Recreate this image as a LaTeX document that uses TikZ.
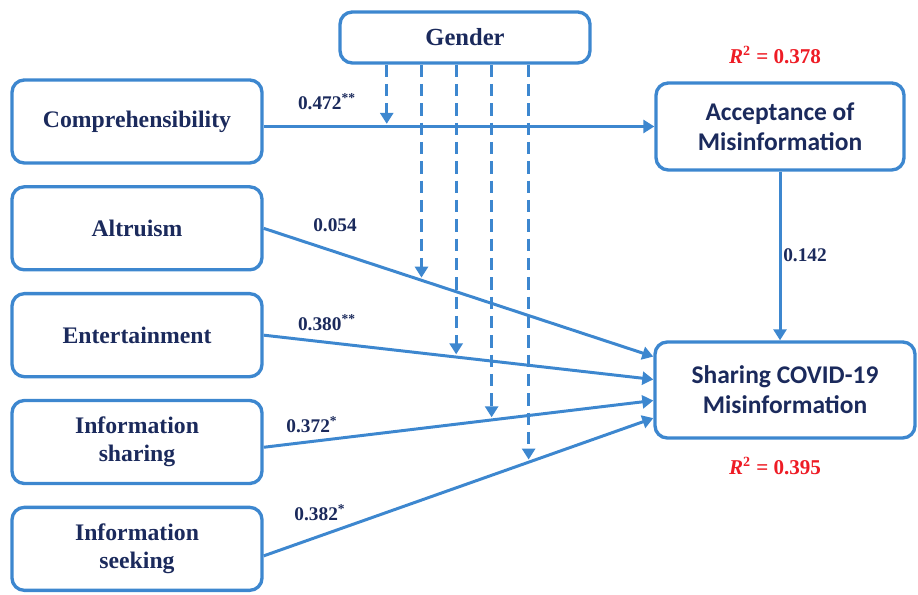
\documentclass[tikz,border=0pt]{standalone}
\usepackage{fontspec}
\setmainfont{Liberation Serif}
\newfontfamily\calibfont{Carlito}
\usetikzlibrary{arrows.meta,positioning}
\definecolor{boxblue}{HTML}{3D87CF}
\definecolor{inkblue}{HTML}{1B2A5C}
\definecolor{rsqred}{HTML}{EE1C25}

\begin{document}
\begin{tikzpicture}[node distance=0.41cm,
  factor/.style={draw=boxblue, line width=1.9pt, rounded corners=7pt, minimum width=5cm, minimum height=1.66cm, align=center, text=inkblue, font=\fontsize{13.5}{16}\selectfont\bfseries},
  outcome/.style={factor, font=\calibfont\fontsize{14.5}{17}\selectfont\bfseries},
  effect/.style={draw=boxblue, line width=1.7pt, -{Triangle[length=2.2mm,width=2.6mm]}},
  moder/.style={effect, dash pattern=on 7pt off 4pt, shorten >=1.5pt},
  coef/.style={text=inkblue, font=\fontsize{11}{13}\selectfont\bfseries},
  rsq/.style={text=rsqred, font=\fontsize{12}{14}\selectfont\bfseries}]
\useasboundingbox (0,0) rectangle (18.36,11.9);

% predictors
\node (comp) [factor] at (2.74,9.47) {Comprehensibility};
\node (altr) [factor, below=of comp] {Altruism};
\node (ent) [factor, below=of altr] {Entertainment};
\node (ish) [factor, below=of ent] {Information\\sharing};
\node (isk) [factor, below=of ish] {Information\\seeking};

% moderator and outcomes
\node (gen) [factor, minimum height=1.02cm, font=\fontsize{14}{16}\selectfont\bfseries] at (9.3,11.15) {Gender};
\node (acc) [outcome, minimum width=4.96cm, minimum height=1.74cm] at (15.6,9.37) {Acceptance of\\Misinformation};
\node (shr) [outcome, minimum width=5.2cm, minimum height=1.92cm] at (15.7,4.1) {Sharing COVID-19\\Misinformation};
\node (r1) [rsq] at (15.5,10.8) {\textit{R}\textsuperscript{2} = 0.378};
\node (r2) [rsq] at (15.5,2.58) {\textit{R}\textsuperscript{2} = 0.395};

% paths
\draw[effect] (comp.east |- acc.west) -- (acc.west) coordinate[pos=0.315] (g1);
\draw[effect] (altr.east) -- ([yshift=19pt]shr.west) coordinate[pos=0.405] (g2);
\draw[effect] (ent.east) -- ([yshift=6pt]shr.west) coordinate[pos=0.494] (g3);
\draw[effect] ([yshift=-3pt]ish.east) -- ([yshift=-6pt]shr.west) coordinate[pos=0.585] (g4);
\draw[effect] ([yshift=-4pt]isk.east) -- ([yshift=-16pt]shr.west) coordinate[pos=0.68] (g5);
\draw[effect] (acc.south) -- (acc.south |- shr.north);

% gender moderation
\foreach \g in {g1,g2,g3,g4,g5}
  \draw[moder] (\g |- gen.south) -- (\g);

% coefficients
\node (c1) [coef] at (6.54,9.86) {0.472\textsuperscript{**}};
\node (c2) [coef] at (6.7,7.4) {0.054};
\node (c3) [coef] at (6.54,5.44) {0.380\textsuperscript{**}};
\node (c4) [coef] at (6.24,3.4) {0.372\textsuperscript{*}};
\node (c5) [coef] at (6.4,1.64) {0.382\textsuperscript{*}};
\node (c6) [coef] at (16.1,6.8) {0.142};
\end{tikzpicture}
\end{document}
